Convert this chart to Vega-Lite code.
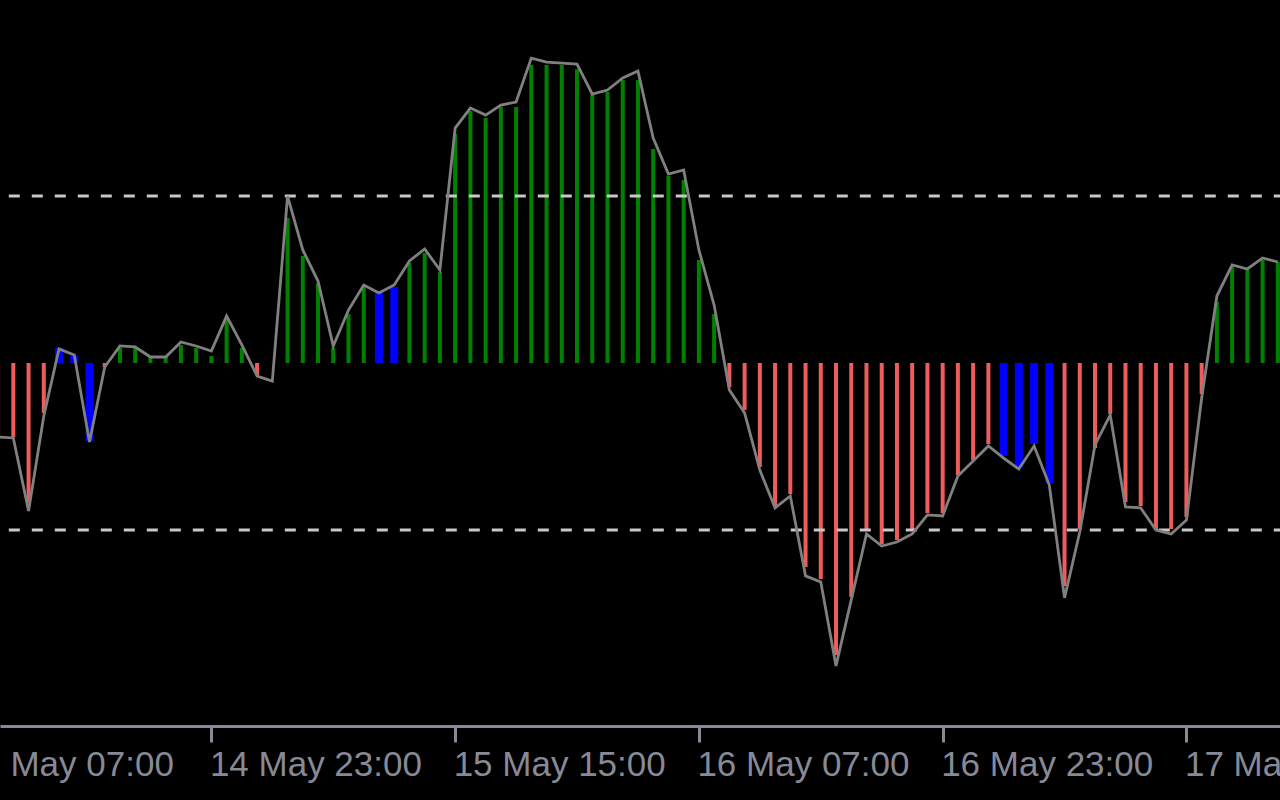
{
  "$schema": "https://vega.github.io/schema/vega-lite/v6.json",
  "width": 1280,
  "height": 726,
  "autosize": "none",
  "padding": {"left": 0, "top": 0, "right": 0, "bottom": 74},
  "background": "#000000",
  "config": {
    "view": {"stroke": null},
    "axisX": {
      "domainColor": "#878A96", "domainWidth": 3,
      "tickColor": "#878A96", "tickWidth": 3, "tickSize": 16,
      "labelColor": "#878A96", "labelFont": "Liberation Sans", "labelFontSize": 35,
      "labelAlign": "left", "labelBaseline": "top", "labelPadding": 5, "labelOffset": -2, "labelLimit": 0,
      "grid": false, "labelOverlap": false, "labelFlush": false, "labelBound": false
    }
  },
  "datasets": {
    "levels": [{"lv": 100}, {"lv": -100}],
    "cci": [
      {"t": "2024-05-14T09:00:00Z", "b": -44.3, "l": -44.3, "c": "r"},
      {"t": "2024-05-14T10:00:00Z", "b": -44.3, "l": -44.9, "c": "r"},
      {"t": "2024-05-14T11:00:00Z", "b": -83.2, "l": -88.6, "c": "r"},
      {"t": "2024-05-14T12:00:00Z", "b": -29.9, "l": -31.7, "c": "r"},
      {"t": "2024-05-14T13:00:00Z", "b": 9.0, "l": 8.4, "c": "b"},
      {"t": "2024-05-14T14:00:00Z", "b": 4.2, "l": 4.8, "c": "b"},
      {"t": "2024-05-14T15:00:00Z", "b": -46.7, "l": -47.3, "c": "b"},
      {"t": "2024-05-14T16:00:00Z", "b": -2.4, "l": -2.4, "c": "r"},
      {"t": "2024-05-14T17:00:00Z", "b": 9.0, "l": 10.2, "c": "g"},
      {"t": "2024-05-14T18:00:00Z", "b": 9.0, "l": 9.6, "c": "g"},
      {"t": "2024-05-14T19:00:00Z", "b": 3.6, "l": 3.6, "c": "g"},
      {"t": "2024-05-14T20:00:00Z", "b": 3.6, "l": 3.6, "c": "g"},
      {"t": "2024-05-14T21:00:00Z", "b": 10.8, "l": 12.6, "c": "g"},
      {"t": "2024-05-14T22:00:00Z", "b": 9.0, "l": 10.2, "c": "g"},
      {"t": "2024-05-14T23:00:00Z", "b": 4.2, "l": 7.2, "c": "g"},
      {"t": "2024-05-15T00:00:00Z", "b": 25.7, "l": 28.1, "c": "g"},
      {"t": "2024-05-15T01:00:00Z", "b": 9.0, "l": 10.8, "c": "g"},
      {"t": "2024-05-15T02:00:00Z", "b": -7.2, "l": -7.8, "c": "r"},
      {"t": "2024-05-15T03:00:00Z", "b": 0, "l": -10.8, "c": "r"},
      {"t": "2024-05-15T04:00:00Z", "b": 86.8, "l": 100.0, "c": "g"},
      {"t": "2024-05-15T05:00:00Z", "b": 64.1, "l": 67.7, "c": "g"},
      {"t": "2024-05-15T06:00:00Z", "b": 47.9, "l": 49.1, "c": "g"},
      {"t": "2024-05-15T07:00:00Z", "b": 9.0, "l": 10.2, "c": "g"},
      {"t": "2024-05-15T08:00:00Z", "b": 29.3, "l": 31.7, "c": "g"},
      {"t": "2024-05-15T09:00:00Z", "b": 45.5, "l": 46.7, "c": "g"},
      {"t": "2024-05-15T10:00:00Z", "b": 43.1, "l": 41.9, "c": "b"},
      {"t": "2024-05-15T11:00:00Z", "b": 45.5, "l": 46.7, "c": "b"},
      {"t": "2024-05-15T12:00:00Z", "b": 59.9, "l": 61.1, "c": "g"},
      {"t": "2024-05-15T13:00:00Z", "b": 65.9, "l": 68.3, "c": "g"},
      {"t": "2024-05-15T14:00:00Z", "b": 54.5, "l": 55.7, "c": "g"},
      {"t": "2024-05-15T15:00:00Z", "b": 137.1, "l": 140.7, "c": "g"},
      {"t": "2024-05-15T16:00:00Z", "b": 150.9, "l": 152.7, "c": "g"},
      {"t": "2024-05-15T17:00:00Z", "b": 146.7, "l": 148.5, "c": "g"},
      {"t": "2024-05-15T18:00:00Z", "b": 153.3, "l": 154.5, "c": "g"},
      {"t": "2024-05-15T19:00:00Z", "b": 153.3, "l": 156.3, "c": "g"},
      {"t": "2024-05-15T20:00:00Z", "b": 178.4, "l": 182.6, "c": "g"},
      {"t": "2024-05-15T21:00:00Z", "b": 178.4, "l": 180.2, "c": "g"},
      {"t": "2024-05-15T22:00:00Z", "b": 178.4, "l": 179.6, "c": "g"},
      {"t": "2024-05-15T23:00:00Z", "b": 176.0, "l": 179.0, "c": "g"},
      {"t": "2024-05-16T00:00:00Z", "b": 160.5, "l": 161.1, "c": "g"},
      {"t": "2024-05-16T01:00:00Z", "b": 162.3, "l": 163.5, "c": "g"},
      {"t": "2024-05-16T02:00:00Z", "b": 169.5, "l": 170.7, "c": "g"},
      {"t": "2024-05-16T03:00:00Z", "b": 169.5, "l": 174.9, "c": "g"},
      {"t": "2024-05-16T04:00:00Z", "b": 128.1, "l": 134.7, "c": "g"},
      {"t": "2024-05-16T05:00:00Z", "b": 112.0, "l": 113.2, "c": "g"},
      {"t": "2024-05-16T06:00:00Z", "b": 109.6, "l": 115.6, "c": "g"},
      {"t": "2024-05-16T07:00:00Z", "b": 61.7, "l": 67.7, "c": "g"},
      {"t": "2024-05-16T08:00:00Z", "b": 29.3, "l": 34.7, "c": "g"},
      {"t": "2024-05-16T09:00:00Z", "b": -14.4, "l": -16.2, "c": "r"},
      {"t": "2024-05-16T10:00:00Z", "b": -28.1, "l": -29.9, "c": "r"},
      {"t": "2024-05-16T11:00:00Z", "b": -62.3, "l": -64.1, "c": "r"},
      {"t": "2024-05-16T12:00:00Z", "b": -85.6, "l": -86.8, "c": "r"},
      {"t": "2024-05-16T13:00:00Z", "b": -78.4, "l": -79.6, "c": "r"},
      {"t": "2024-05-16T14:00:00Z", "b": -122.2, "l": -127.5, "c": "r"},
      {"t": "2024-05-16T15:00:00Z", "b": -129.3, "l": -131.1, "c": "r"},
      {"t": "2024-05-16T16:00:00Z", "b": -174.9, "l": -181.4, "c": "r"},
      {"t": "2024-05-16T17:00:00Z", "b": -140.1, "l": -141.9, "c": "r"},
      {"t": "2024-05-16T18:00:00Z", "b": -100.0, "l": -102.4, "c": "r"},
      {"t": "2024-05-16T19:00:00Z", "b": -108.4, "l": -109.6, "c": "r"},
      {"t": "2024-05-16T20:00:00Z", "b": -106.0, "l": -107.2, "c": "r"},
      {"t": "2024-05-16T21:00:00Z", "b": -100.0, "l": -102.4, "c": "r"},
      {"t": "2024-05-16T22:00:00Z", "b": -89.8, "l": -91.0, "c": "r"},
      {"t": "2024-05-16T23:00:00Z", "b": -89.8, "l": -91.6, "c": "r"},
      {"t": "2024-05-17T00:00:00Z", "b": -67.1, "l": -67.7, "c": "r"},
      {"t": "2024-05-17T01:00:00Z", "b": -58.1, "l": -58.7, "c": "r"},
      {"t": "2024-05-17T02:00:00Z", "b": -48.5, "l": -49.7, "c": "r"},
      {"t": "2024-05-17T03:00:00Z", "b": -55.7, "l": -56.9, "c": "b"},
      {"t": "2024-05-17T04:00:00Z", "b": -62.3, "l": -63.5, "c": "b"},
      {"t": "2024-05-17T05:00:00Z", "b": -48.5, "l": -49.7, "c": "b"},
      {"t": "2024-05-17T06:00:00Z", "b": -71.9, "l": -73.1, "c": "b"},
      {"t": "2024-05-17T07:00:00Z", "b": -133.5, "l": -140.7, "c": "r"},
      {"t": "2024-05-17T08:00:00Z", "b": -99.4, "l": -101.2, "c": "r"},
      {"t": "2024-05-17T09:00:00Z", "b": -50.9, "l": -49.1, "c": "r"},
      {"t": "2024-05-17T10:00:00Z", "b": -30.5, "l": -31.1, "c": "r"},
      {"t": "2024-05-17T11:00:00Z", "b": -83.2, "l": -86.2, "c": "r"},
      {"t": "2024-05-17T12:00:00Z", "b": -85.6, "l": -86.8, "c": "r"},
      {"t": "2024-05-17T13:00:00Z", "b": -99.4, "l": -100.0, "c": "r"},
      {"t": "2024-05-17T14:00:00Z", "b": -99.4, "l": -102.4, "c": "r"},
      {"t": "2024-05-17T15:00:00Z", "b": -92.2, "l": -94.0, "c": "r"},
      {"t": "2024-05-17T16:00:00Z", "b": -18.6, "l": -21.0, "c": "r"},
      {"t": "2024-05-17T17:00:00Z", "b": 36.5, "l": 40.1, "c": "g"},
      {"t": "2024-05-17T18:00:00Z", "b": 57.5, "l": 58.7, "c": "g"},
      {"t": "2024-05-17T19:00:00Z", "b": 55.7, "l": 56.3, "c": "g"},
      {"t": "2024-05-17T20:00:00Z", "b": 61.7, "l": 62.9, "c": "g"},
      {"t": "2024-05-17T21:00:00Z", "b": 60.5, "l": 60.5, "c": "g"}
    ]
  },
  "layer": [
    {
      "data": {"name": "cci"},
      "transform": [{"filter": "datum.c !== 'b'"}],
      "mark": {"type": "bar", "size": 4, "clip": true},
      "encoding": {
        "x": {"field": "t", "type": "temporal", "title": null,
          "scale": {"type": "utc", "domain": [{"year": 2024, "month": 5, "date": 14, "hours": 9, "minutes": 27, "seconds": 14, "utc": true}, {"year": 2024, "month": 5, "date": 17, "hours": 20, "minutes": 48, "seconds": 52, "utc": true}]},
          "axis": {
            "labelExpr": "datum.value < 1715688000000 ? 'May 07:00' : utcFormat(datum.value, '%d %b %H:%M')",
            "tickOpacity": {"condition": {"test": "datum.value < 1715688000000", "value": 0}, "value": 1},
            "values": [
            {"year": 2024, "month": 5, "date": 14, "hours": 9, "minutes": 54, "seconds": 36, "utc": true},
            {"year": 2024, "month": 5, "date": 14, "hours": 23, "utc": true},
            {"year": 2024, "month": 5, "date": 15, "hours": 15, "utc": true},
            {"year": 2024, "month": 5, "date": 16, "hours": 7, "utc": true},
            {"year": 2024, "month": 5, "date": 16, "hours": 23, "utc": true},
            {"year": 2024, "month": 5, "date": 17, "hours": 15, "utc": true}]}},
        "y": {"field": "b", "type": "quantitative", "stack": null, "axis": null,
          "scale": {"domain": [-217.4, 217.4], "nice": false, "zero": false}},
        "color": {"field": "c", "type": "nominal", "legend": null,
          "scale": {"domain": ["g", "r", "b"], "range": ["#008000", "#EE5C5C", "#0000FF"]}}
      }
    },
    {
      "data": {"name": "cci"},
      "transform": [{"filter": "datum.c === 'b'"}],
      "mark": {"type": "bar", "size": 8, "clip": true},
      "encoding": {
        "x": {"field": "t", "type": "temporal", "title": null,
          "scale": {"type": "utc", "domain": [{"year": 2024, "month": 5, "date": 14, "hours": 9, "minutes": 27, "seconds": 14, "utc": true}, {"year": 2024, "month": 5, "date": 17, "hours": 20, "minutes": 48, "seconds": 52, "utc": true}]}},
        "y": {"field": "b", "type": "quantitative", "stack": null, "axis": null,
          "scale": {"domain": [-217.4, 217.4], "nice": false, "zero": false}},
        "color": {"field": "c", "type": "nominal", "legend": null,
          "scale": {"domain": ["g", "r", "b"], "range": ["#008000", "#EE5C5C", "#0000FF"]}}
      }
    },
    {
      "data": {"name": "levels"},
      "mark": {"type": "rule", "color": "#C8C8C8", "strokeWidth": 3, "strokeDash": [11, 12], "strokeDashOffset": 4.8},
      "encoding": {
        "y": {"field": "lv", "type": "quantitative", "axis": null,
          "scale": {"domain": [-217.4, 217.4], "nice": false, "zero": false}}
      }
    },
    {
      "data": {"name": "cci"},
      "mark": {"type": "line", "color": "#808080", "strokeWidth": 2.8, "clip": true, "strokeJoin": "miter"},
      "encoding": {
        "x": {"field": "t", "type": "temporal", "title": null,
          "scale": {"type": "utc", "domain": [{"year": 2024, "month": 5, "date": 14, "hours": 9, "minutes": 27, "seconds": 14, "utc": true}, {"year": 2024, "month": 5, "date": 17, "hours": 20, "minutes": 48, "seconds": 52, "utc": true}]}},
        "y": {"field": "l", "type": "quantitative", "axis": null,
          "scale": {"domain": [-217.4, 217.4], "nice": false, "zero": false}}
      }
    }
  ]
}
